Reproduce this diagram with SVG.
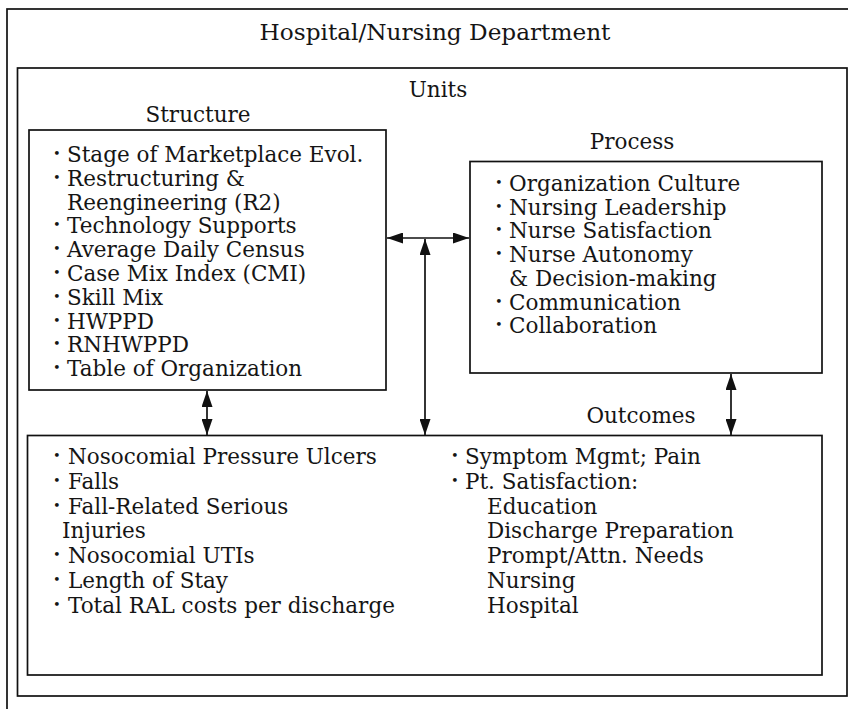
<svg xmlns="http://www.w3.org/2000/svg" width="848" height="709" viewBox="0 0 848 709">
<defs>
<marker id="ah" viewBox="0 0 16 11" refX="16" refY="5.5" markerWidth="16" markerHeight="11" markerUnits="userSpaceOnUse" orient="auto-start-reverse">
<path d="M0,0 L16,5.5 L0,11 Z" fill="#111"/>
</marker>
</defs>
<style>
.box{fill:none;stroke:#111;stroke-width:1.7}
.t{font-family:"DejaVu Serif","Liberation Serif",serif;font-size:21.5px;fill:#151515}
.h{font-family:"DejaVu Serif","Liberation Serif",serif;font-size:21.5px;fill:#151515;text-anchor:middle}
.title{font-family:"DejaVu Serif","Liberation Serif",serif;font-size:23.2px;fill:#151515;text-anchor:middle}
.b{font-size:13px}
.c{fill:none;stroke:#111;stroke-width:1.7}
</style>
<rect width="848" height="709" fill="#fff"/>
<g id="hospital">
<rect class="box" x="7" y="9" width="850" height="712"/>
<text class="title" x="435" y="40">Hospital/Nursing Department</text>
</g>
<g id="units">
<rect class="box" x="17.5" y="68" width="829.5" height="628"/>
<text class="h" x="438" y="97">Units</text>
</g>
<g id="structure">
<text class="h" x="198" y="122">Structure</text>
<rect class="box" x="29" y="130" width="357" height="260"/>
<text class="t"><tspan class="b" x="53" y="158">•</tspan><tspan x="67" y="162">Stage of Marketplace Evol.</tspan></text>
<text class="t"><tspan class="b" x="53" y="181.8">•</tspan><tspan x="67" y="185.8">Restructuring &amp;</tspan></text>
<text class="t" x="67" y="209.6">Reengineering (R2)</text>
<text class="t"><tspan class="b" x="53" y="229.4">•</tspan><tspan x="67" y="233.4">Technology Supports</tspan></text>
<text class="t"><tspan class="b" x="53" y="253.2">•</tspan><tspan x="67" y="257.2">Average Daily Census</tspan></text>
<text class="t"><tspan class="b" x="53" y="277">•</tspan><tspan x="67" y="281">Case Mix Index (CMI)</tspan></text>
<text class="t"><tspan class="b" x="53" y="300.8">•</tspan><tspan x="67" y="304.8">Skill Mix</tspan></text>
<text class="t"><tspan class="b" x="53" y="324.6">•</tspan><tspan x="67" y="328.6">HWPPD</tspan></text>
<text class="t"><tspan class="b" x="53" y="348.4">•</tspan><tspan x="67" y="352.4">RNHWPPD</tspan></text>
<text class="t"><tspan class="b" x="53" y="372.2">•</tspan><tspan x="67" y="376.2">Table of Organization</tspan></text>
</g>
<g id="process">
<text class="h" x="632" y="149">Process</text>
<rect class="box" x="470" y="161.5" width="352" height="211.5"/>
<text class="t"><tspan class="b" x="495" y="187">•</tspan><tspan x="509" y="191">Organization Culture</tspan></text>
<text class="t"><tspan class="b" x="495" y="210.7">•</tspan><tspan x="509" y="214.7">Nursing Leadership</tspan></text>
<text class="t"><tspan class="b" x="495" y="234.4">•</tspan><tspan x="509" y="238.4">Nurse Satisfaction</tspan></text>
<text class="t"><tspan class="b" x="495" y="258.1">•</tspan><tspan x="509" y="262.1">Nurse Autonomy</tspan></text>
<text class="t" x="509" y="285.8">&amp; Decision-making</text>
<text class="t"><tspan class="b" x="495" y="305.5">•</tspan><tspan x="509" y="309.5">Communication</tspan></text>
<text class="t"><tspan class="b" x="495" y="329.2">•</tspan><tspan x="509" y="333.2">Collaboration</tspan></text>
</g>
<g id="outcomes">
<text class="h" x="641" y="423">Outcomes</text>
<rect class="box" x="27.5" y="435.5" width="794.5" height="239.5"/>
<text class="t"><tspan class="b" x="53" y="460">•</tspan><tspan x="68" y="464">Nosocomial Pressure Ulcers</tspan></text>
<text class="t"><tspan class="b" x="53" y="484.8">•</tspan><tspan x="68" y="488.8">Falls</tspan></text>
<text class="t"><tspan class="b" x="53" y="509.6">•</tspan><tspan x="68" y="513.6">Fall-Related Serious</tspan></text>
<text class="t" x="62" y="538.4">Injuries</text>
<text class="t"><tspan class="b" x="53" y="559.2">•</tspan><tspan x="68" y="563.2">Nosocomial UTIs</tspan></text>
<text class="t"><tspan class="b" x="53" y="584">•</tspan><tspan x="68" y="588">Length of Stay</tspan></text>
<text class="t"><tspan class="b" x="53" y="608.8">•</tspan><tspan x="68" y="612.8">Total RAL costs per discharge</tspan></text>
<text class="t"><tspan class="b" x="451" y="460">•</tspan><tspan x="465" y="464">Symptom Mgmt; Pain</tspan></text>
<text class="t"><tspan class="b" x="451" y="484.8">•</tspan><tspan x="465" y="488.8">Pt. Satisfaction:</tspan></text>
<text class="t" x="487" y="513.6">Education</text>
<text class="t" x="487" y="538.4">Discharge Preparation</text>
<text class="t" x="487" y="563.2">Prompt/Attn. Needs</text>
<text class="t" x="487" y="588">Nursing</text>
<text class="t" x="487" y="612.8">Hospital</text>
</g>
<g id="connectors">
<line class="c" x1="387" y1="238" x2="469" y2="238" marker-start="url(#ah)" marker-end="url(#ah)"/>
<line class="c" x1="425" y1="239" x2="425" y2="435" marker-start="url(#ah)" marker-end="url(#ah)"/>
<line class="c" x1="207" y1="391" x2="207" y2="435" marker-start="url(#ah)" marker-end="url(#ah)"/>
<line class="c" x1="731" y1="374" x2="731" y2="435" marker-start="url(#ah)" marker-end="url(#ah)"/>
</g>
</svg>
